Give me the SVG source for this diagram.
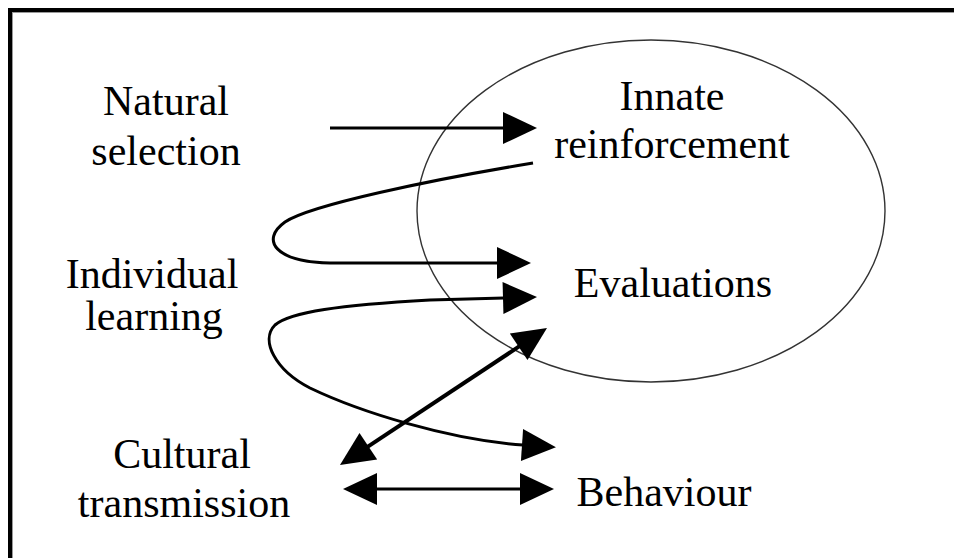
<svg xmlns="http://www.w3.org/2000/svg" width="954" height="558" viewBox="0 0 954 558">
  <style>
    .t { font-family: "Liberation Serif", "Times New Roman", serif; font-size: 42px; fill: #000; text-anchor: middle; }
    .c { fill: none; stroke: #000; stroke-width: 3; }
    .d { fill: none; stroke: #000; stroke-width: 4; }
  </style>
  <defs>
    <marker id="ah" markerUnits="userSpaceOnUse" markerWidth="36" markerHeight="34" refX="1" refY="16" orient="auto-start-reverse" overflow="visible">
      <path d="M0,0 L34,16 L0,32 Z" fill="#000"/>
    </marker>
  </defs>
  <rect width="954" height="558" fill="#fff"/>
  <g id="frame">
    <rect x="8" y="8" width="946" height="4" fill="#000"/>
    <rect x="8" y="8" width="4" height="550" fill="#000"/>
    <rect x="12" y="12" width="942" height="1" fill="#999"/>
    <rect x="12" y="12" width="1" height="546" fill="#999"/>
  </g>
  <g id="ellipse">
    <ellipse cx="651" cy="211" rx="234" ry="171" fill="none" stroke="#333" stroke-width="1.4"/>
  </g>
  <g id="natural-selection">
    <text class="t" x="166" y="115">Natural</text>
    <text class="t" x="166" y="165">selection</text>
  </g>
  <g id="innate-reinforcement">
    <text class="t" x="672" y="110">Innate</text>
    <text class="t" x="672" y="158">reinforcement</text>
  </g>
  <g id="individual-learning">
    <text class="t" x="152" y="288">Individual</text>
    <text class="t" x="154" y="330">learning</text>
  </g>
  <g id="evaluations">
    <text class="t" x="673" y="297">Evaluations</text>
  </g>
  <g id="cultural-transmission">
    <text class="t" x="182" y="468">Cultural</text>
    <text class="t" x="184" y="517">transmission</text>
  </g>
  <g id="behaviour">
    <text class="t" x="664" y="506">Behaviour</text>
  </g>
  <g id="connectors">
    <path class="c" d="M330,128 L504,128" marker-end="url(#ah)"/>
    <path class="c" d="M533,163 C430,180 310,205 285,222 C260,240 275,262 330,263 L498,263" marker-end="url(#ah)"/>
    <path class="c" d="M504,298 L430,300 C340,305 290,312 275,325 C260,340 275,370 310,388 C360,412 450,440 523,445" marker-start="url(#ah)" marker-end="url(#ah)"/>
    <path class="d" d="M519.5,346.2 L367.5,446.8" marker-start="url(#ah)" marker-end="url(#ah)"/>
    <path class="c" d="M376,489 L521,489" marker-start="url(#ah)" marker-end="url(#ah)"/>
  </g>
</svg>
